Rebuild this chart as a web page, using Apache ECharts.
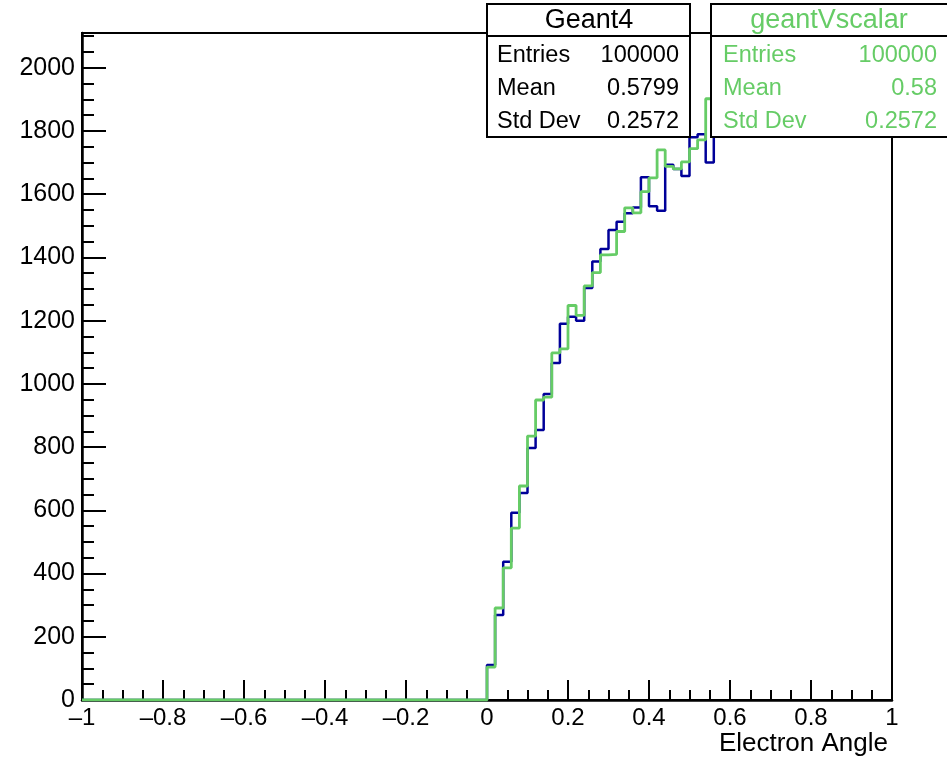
<!DOCTYPE html>
<html>
<head>
<meta charset="utf-8">
<title>Electron Angle</title>
<script src="https://cdn.jsdelivr.net/npm/echarts@6/dist/echarts.min.js"></script>
<style>
  html, body { margin: 0; padding: 0; background: #fff; }
  #chart { width: 947px; height: 763px; }
</style>
</head>
<body>
<div id="chart"></div>
<script>
// histogram: 100 bins of width 0.02 over [-1, 1]
const xMin = -1
const xMax = 1
const binWidth = 0.02
const yMax = 2110

// bins in [-1, 0): empty for both samples
const emptyBins = [
  0, 0, 0, 0, 0, 0, 0, 0, 0, 0, 0, 0, 0, 0, 0, 0, 0, 0, 0, 0, 0, 0, 0, 0, 0,
  0, 0, 0, 0, 0, 0, 0, 0, 0, 0, 0, 0, 0, 0, 0, 0, 0, 0, 0, 0, 0, 0, 0, 0, 0,
]
// bins in [0, 1) -- past 0.56 the lines run under the stat boxes (estimated)
const geant4Counts = [
  111, 269, 437, 592, 655, 797, 854, 968, 1066, 1190,
  1212, 1200, 1303, 1387, 1427, 1487, 1513, 1540, 1558, 1654,
  1562, 1548, 1693, 1680, 1658, 1780, 1790, 1700, 1850, 1880,
  1840, 1910, 1930, 1890, 1950, 1960, 1920, 1980, 1970, 1940,
  2000, 1990, 1960, 2010, 1980, 1995, 1970, 2005, 1985, 1960,
]
const vscalarCounts = [
  104, 291, 418, 544, 677, 835, 949, 958, 1098, 1111,
  1248, 1217, 1310, 1352, 1408, 1410, 1482, 1557, 1541, 1608,
  1652, 1740, 1688, 1680, 1702, 1744, 1772, 1902, 1830, 1900,
  1870, 1890, 1950, 1920, 1940, 1980, 1950, 1960, 1990, 1950,
  1985, 2000, 1975, 1990, 2005, 1970, 1995, 1980, 2000, 1975,
]

const statLabels = ['Entries', 'Mean', 'Std Dev']
const geant4Stats = ['100000', '0.5799', '0.2572']
const vscalarStats = ['100000', '0.58', '0.2572']

const BLUE = '#000099'
const GREEN = '#66cc66'
const FONT = '"Liberation Sans", Arial, Helvetica, sans-serif'

// step outline: one point per bin low edge, plus the last upper edge
function toSteps(counts) {
  const all = emptyBins.concat(counts)
  const pts = all.map((v, i) => [+(xMin + i * binWidth).toFixed(2), v])
  pts.push([xMax, all[all.length - 1]])
  return pts
}

function statBox(x, w, titleX, title, values, color, labelX, valueX) {
  const els = [
    { type: 'rect', shape: { x: x, y: 4, width: w, height: 133 },
      style: { fill: '#fff', stroke: '#000', lineWidth: 2 }, z: 100 },
    { type: 'line', shape: { x1: x, y1: 36, x2: x + w, y2: 36 },
      style: { stroke: '#000', lineWidth: 2 }, z: 101 },
    { type: 'text', x: titleX, y: 21, z: 102,
      style: { text: title, fill: color, font: '27px ' + FONT, textAlign: 'center', textVerticalAlign: 'middle' } },
  ]
  statLabels.forEach((lab, i) => {
    const y = 56 + i * 33
    els.push({ type: 'text', x: labelX, y: y, z: 102,
      style: { text: lab, fill: color, font: '23.5px ' + FONT, textAlign: 'left', textVerticalAlign: 'middle' } })
    els.push({ type: 'text', x: valueX, y: y, z: 102,
      style: { text: values[i], fill: color, font: '23.5px ' + FONT, textAlign: 'right', textVerticalAlign: 'middle' } })
  })
  return els
}

const chart = echarts.init(document.getElementById('chart'))

chart.setOption({
  animation: false,
  backgroundColor: '#fff',
  grid: {
    left: 82, right: 55, top: 33, bottom: 63,
    show: true, borderColor: '#000', borderWidth: 2,
    outerBoundsMode: 'none',
  },
  xAxis: {
    type: 'value',
    min: xMin,
    max: xMax,
    interval: 0.2,
    axisLine: { onZero: false, lineStyle: { color: '#000', width: 2.5 } },
    axisTick: { inside: true, length: 20, lineStyle: { color: '#000', width: 2 } },
    minorTick: { show: true, splitNumber: 4, length: 10, lineStyle: { color: '#000', width: 2 } },
    splitLine: { show: false },
    axisLabel: {
      color: '#000', fontSize: 24, fontFamily: FONT, margin: 6,
      formatter: v => (Math.round(v * 10) / 10).toString().replace('-', '\u2013'),
    },
  },
  yAxis: {
    type: 'value',
    min: 0,
    max: yMax,
    interval: 200,
    axisLine: { show: true, onZero: false, lineStyle: { color: '#000', width: 2.5 } },
    axisTick: { inside: true, length: 24, lineStyle: { color: '#000', width: 2 } },
    minorTick: { show: true, splitNumber: 4, length: 12, lineStyle: { color: '#000', width: 2 } },
    splitLine: { show: false },
    axisLabel: {
      color: '#000', fontSize: 25, fontFamily: FONT, margin: 7, showMaxLabel: false,
      formatter: v => String(v),
    },
  },
  series: [
    {
      name: 'Geant4', type: 'line', step: 'end', symbol: 'none',
      data: toSteps(geant4Counts),
      lineStyle: { color: BLUE, width: 2.5 }, z: 3,
    },
    {
      name: 'geantVscalar', type: 'line', step: 'end', symbol: 'none',
      data: toSteps(vscalarCounts),
      lineStyle: { color: GREEN, width: 2.8 }, z: 4,
    },
  ],
  graphic: [
    ...statBox(487, 203, 589, 'Geant4', geant4Stats, '#000', 497, 679),
    ...statBox(711, 260, 829, 'geantVscalar', vscalarStats, GREEN, 723, 937),
    { type: 'text', x: 888, y: 744, z: 102,
      style: { text: 'Electron Angle', fill: '#000', font: '26px ' + FONT, textAlign: 'right', textVerticalAlign: 'middle' } },
  ],
})
</script>
</body>
</html>
